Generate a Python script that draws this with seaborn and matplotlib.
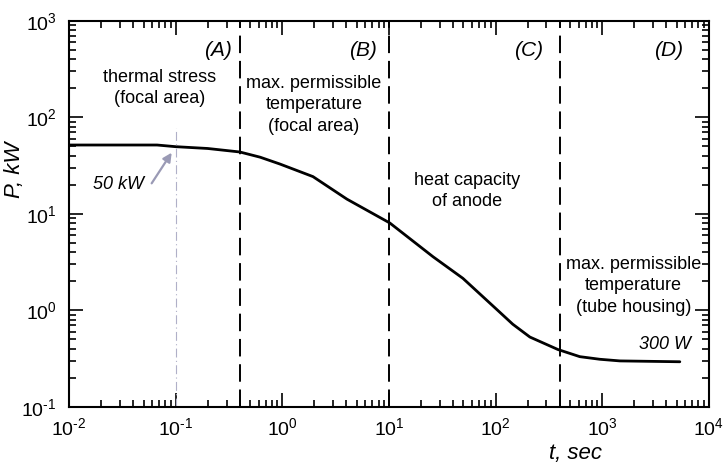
import numpy as np
import pandas as pd
import matplotlib
matplotlib.use("Agg")
import matplotlib.pyplot as plt
import seaborn as sns
from matplotlib.ticker import FixedLocator, NullFormatter, FuncFormatter

# Data
t_sec = [0.01, 0.067, 0.1, 0.2, 0.4, 0.62, 0.95, 1.94, 4.04, 10.2, 25.9, 49.4,
         103, 145, 210, 384, 617, 950, 1465, 5350]
p_kw = [51.6, 51.6, 49.6, 47.5, 43.7, 38.6, 32.8, 24.3, 14.2, 8.04, 3.60, 2.15,
        1.02, 0.72, 0.53, 0.394, 0.332, 0.312, 0.300, 0.294]
x_decades = [-2, -1, 0, 1, 2, 3, 4]
y_decades = [-1, 0, 1, 2, 3]
boundaries = [0.4, 10, 400]
marker_t = 0.1
region_letters = ["(A)", "(B)", "(C)", "(D)"]
region_texts = ["thermal stress\n(focal area)",
                "max. permissible\ntemperature\n(focal area)",
                "heat capacity\nof anode",
                "max. permissible\ntemperature\n(tube housing)"]

df = pd.DataFrame({"t": t_sec, "P": p_kw})

sns.set_style("ticks")
plt.rcParams["font.family"] = ["Liberation Sans", "DejaVu Sans"]
plt.rcParams["mathtext.fontset"] = "custom"
plt.rcParams["mathtext.rm"] = "Liberation Sans"
plt.rcParams["mathtext.it"] = "Liberation Sans:italic"
plt.rcParams["axes.unicode_minus"] = False
for k in ["text.color", "axes.labelcolor", "xtick.color", "ytick.color", "axes.edgecolor"]:
    plt.rcParams[k] = "black"

fig = plt.figure(figsize=(7.24, 4.67), dpi=100)
ax = fig.add_axes([0.0953, 0.1285, 0.8837, 0.8272])

sns.lineplot(data=df, x="t", y="P", ax=ax, color="black", linewidth=2.0)
for ln in ax.get_lines():
    ln.set_solid_joinstyle("round")
ax.set_xscale("log")
ax.set_yscale("log")
ax.set_xlim(1e-2, 1e4)
ax.set_ylim(1e-1, 1e3)

for b in boundaries:
    ax.axvline(b, color="black", linewidth=1.4, dashes=(9, 4))
ax.plot([marker_t, marker_t], [0.1, 78], color="#b0b0c8", linewidth=0.8,
        dashes=(8, 3, 1, 3))

# region letters (right-aligned)
letter_pos = [(0.337, 497), (7.7, 497), (278, 497), (5700, 497)]
for (x, y), s in zip(letter_pos, region_letters):
    ax.text(x, y, s, ha="right", va="center", fontsize=15, style="italic")

text_pos = [(0.0713, 201), (1.98, 134), (53.7, 17.3), (1972, 1.8)]
for (x, y), s in zip(text_pos, region_texts):
    ax.text(x, y, s, ha="center", va="center", fontsize=13, linespacing=1.35)

ax.text(3850, 0.447, "300 W", ha="center", va="center", fontsize=13, style="italic")
ax.text(0.0294, 19.9, "50 kW", ha="center", va="center", fontsize=13, style="italic")
ax.annotate("", xy=(0.0918, 43.0), xytext=(0.0596, 20.7),
            arrowprops=dict(arrowstyle="-|>", color="#9a9ab5", lw=1.6,
                            shrinkA=0, shrinkB=0, mutation_scale=13))

def fmt(v, pos):
    n = int(round(np.log10(v)))
    return r"$\mathdefault{10^{\text{%d}}}$" % n

def minors(decs):
    return [m * 10.0 ** d for d in decs[:-1] for m in range(2, 10)]

ax.xaxis.set_major_locator(FixedLocator([10.0 ** d for d in x_decades]))
ax.yaxis.set_major_locator(FixedLocator([10.0 ** d for d in y_decades]))
ax.xaxis.set_minor_locator(FixedLocator(minors(x_decades)))
ax.yaxis.set_minor_locator(FixedLocator(minors(y_decades)))
for axis in (ax.xaxis, ax.yaxis):
    axis.set_major_formatter(FuncFormatter(fmt))
    axis.set_minor_formatter(NullFormatter())

ax.tick_params(which="both", direction="in", top=True, right=True, labelsize=14, width=1.2)
ax.tick_params(which="major", length=10)
ax.tick_params(axis="x", which="major", pad=7)
ax.tick_params(axis="y", which="major", pad=9)
ax.tick_params(which="minor", length=5)
for sp in ax.spines.values():
    sp.set_linewidth(1.5)
    sp.set_visible(True)

ax.set_xlabel("t, sec", fontsize=16, style="italic")
ax.set_ylabel("P, kW", fontsize=16, style="italic")
ax.xaxis.set_label_coords(0.792, -0.092)
ax.yaxis.set_label_coords(-0.068, 0.613)

fig.savefig("out.png", dpi=100)
